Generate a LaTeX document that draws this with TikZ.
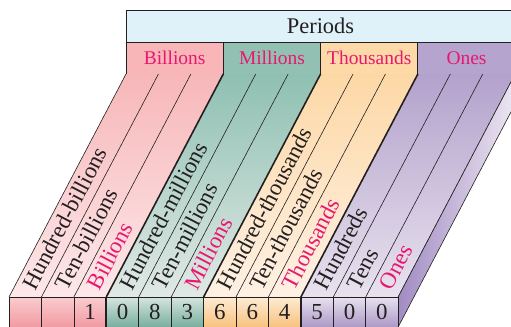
\documentclass[tikz,border=0pt]{standalone}
\usepackage{fontspec}
\setmainfont{Liberation Serif}
\usetikzlibrary{positioning, calc}
\definecolor{lineDark}{HTML}{231F20}
\definecolor{labelPink}{HTML}{E8176F}
\definecolor{periodsBlue}{HTML}{DFF1F9}
% period header fills
\definecolor{headFill0}{HTML}{F8B6B8}
\definecolor{headFill1}{HTML}{92C1B3}
\definecolor{headFill2}{HTML}{FDD9A8}
\definecolor{headFill3}{HTML}{B5A4CD}
% slanted surface
\definecolor{surfTop0}{HTML}{F7B7B9}
\definecolor{surfBot0}{HTML}{FDE8E9}
\definecolor{surfTop1}{HTML}{8FC0B2}
\definecolor{surfBot1}{HTML}{E0E9E5}
\definecolor{surfTop2}{HTML}{FDD8A6}
\definecolor{surfBot2}{HTML}{FEF1E4}
\definecolor{surfTop3}{HTML}{B3A2CC}
\definecolor{surfBot3}{HTML}{E8E2EE}
% front face
\definecolor{frontTop0}{HTML}{F9CCCE}
\definecolor{frontBot0}{HTML}{F29AA2}
\definecolor{frontTop1}{HTML}{D5E5DE}
\definecolor{frontBot1}{HTML}{78AE9E}
\definecolor{frontTop2}{HTML}{FDEBD3}
\definecolor{frontBot2}{HTML}{F8C27E}
\definecolor{frontTop3}{HTML}{E8E1EF}
\definecolor{frontBot3}{HTML}{AC99C7}
\definecolor{sideDark}{HTML}{A18CC3}
\definecolor{sideLight}{HTML}{EDE7F2}
\tikzset{
  thinLine/.style={draw=lineDark, line width=0.6bp},
  sepLine/.style={draw=lineDark, line width=1.6bp},
  periodsBox/.style={rectangle, draw=lineDark, line width=0.9bp, fill=periodsBlue,
                     minimum width=389bp, minimum height=32bp, inner sep=0pt, outer sep=0pt,
                     font=\fontsize{22.5}{24}\selectfont, text=lineDark},
  headBox/.style={rectangle, draw=lineDark, line width=0.9bp,
                  minimum width=97.3bp, minimum height=32bp, inner sep=0pt, outer sep=0pt,
                  font=\fontsize{19.5}{22}\selectfont, text=labelPink},
  digitBox/.style={rectangle, draw=lineDark, line width=0.6bp,
                   minimum width=32.43bp, minimum height=30bp, inner sep=0pt, outer sep=0pt,
                   anchor=north west, font=\fontsize{23}{25}\selectfont, text=lineDark},
  colLabel/.style={anchor=mid west, rotate=62.3, inner sep=0pt,
                   font=\fontsize{23}{25}\selectfont, text=lineDark},
  unitLabel/.style={colLabel, text=labelPink},
}
\begin{document}
\begin{tikzpicture}[x=1bp, y=-1bp]
  \useasboundingbox (0,0) rectangle (511,326);
  \clip (0,0) rectangle (511,326);

  % header
  \node[periodsBox, anchor=north west] (periods) at (126,10) {Periods};
  \node[headBox, fill=headFill0, anchor=north west] (bil) at (126,42) {Billions};
  \node[headBox, fill=headFill1, right=0pt of bil] (mil) {Millions};
  \node[headBox, fill=headFill2, right=0pt of mil] (thou) {Thousands};
  \node[headBox, fill=headFill3, right=0pt of thou] (ones) {Ones};

  % slanted top of the slab
  \foreach \p in {0,...,3} {
    \shade[top color=surfTop\p, bottom color=surfBot\p]
      (126+97.3*\p,74) -- (126+97.3*\p+97.3,74) -- (9+97.3*\p+97.3,297) -- (9+97.3*\p,297) -- cycle;
  }
  \foreach \i in {0,1,2,4,5,7,8,10,11,12}
    \draw[thinLine] (126+32.43*\i,74) -- (9+32.43*\i,297);
  \foreach \i in {3,6,9}
    \draw[sepLine] (126+32.43*\i,74) -- (9+32.43*\i,297);

  % side face
  \shade[left color=sideDark, right color=sideLight]
    (398.16,297) -- (515.16,74) -- (515.16,104) -- (398.16,327) -- cycle;
  \draw[thinLine] (398.16,297) -- (515.16,74) -- (515.16,104) -- (398.16,327);

  % front face with the digits
  \foreach \d [count=\i from 0] in {{},{},1,0,8,3,6,6,4,5,0,0} {
    \pgfmathtruncatemacro\p{\i/3}
    \node[digitBox, top color=frontTop\p, bottom color=frontBot\p]
      (d\i) at (9+32.43*\i,297) {\d};
  }
  \draw[sepLine] (d2.north east) -- (d2.south east);
  \draw[sepLine] (d5.north east) -- (d5.south east);
  \draw[sepLine] (d8.north east) -- (d8.south east);

  % place-value names
  \foreach \t [count=\i from 0] in {Hundred-billions, Ten-billions, {},
      Hundred-millions, Ten-millions, {},
      Hundred-thousands, Ten-thousands, {},
      Hundreds, Tens, {}}
    \node[colLabel] (l\i) at (33+32.43*\i,290.5) {\t};
  \node[unitLabel] (u0) at (33+32.43*2,290.5) {Billions};
  \node[unitLabel] (u1) at (33+32.43*5,290.5) {Millions};
  \node[unitLabel] (u2) at (33+32.43*8,290.5) {Thousands};
  \node[unitLabel] (u3) at (33+32.43*11,290.5) {Ones};
\end{tikzpicture}
\end{document}
